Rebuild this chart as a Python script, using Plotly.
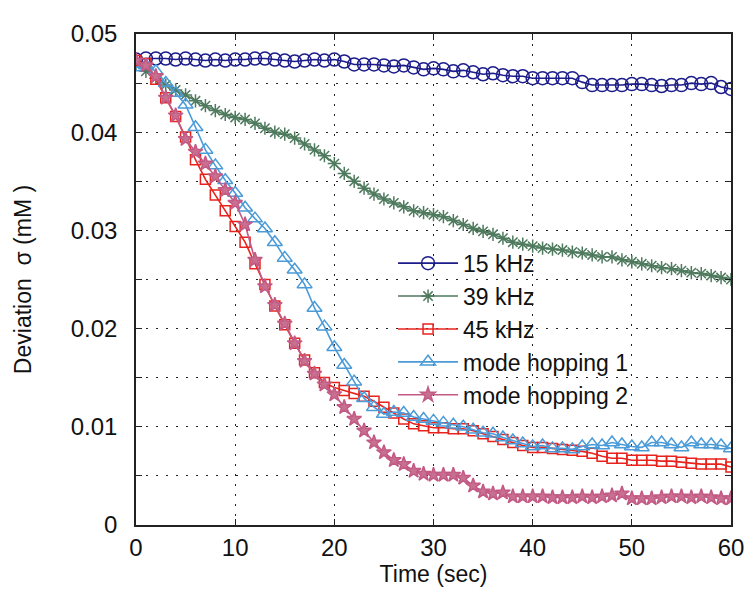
import plotly.graph_objects as go

time_sec = list(range(0, 61))

khz15 = [0.0474, 0.0475, 0.0475, 0.0475, 0.0474, 0.0475, 0.0474, 0.0473, 0.0474, 0.0473,
         0.0474, 0.0474, 0.0475, 0.0475, 0.0474, 0.0473, 0.0472, 0.0473, 0.0474, 0.0473,
         0.0474, 0.0472, 0.0469, 0.0469, 0.0469, 0.0468, 0.0467, 0.0468, 0.0466, 0.0464,
         0.0465, 0.0464, 0.0462, 0.0463, 0.0461, 0.0459, 0.0460, 0.0458, 0.0457, 0.0457,
         0.0455, 0.0455, 0.0455, 0.0455, 0.0455, 0.0451, 0.0448, 0.0448, 0.0448, 0.0448,
         0.0449, 0.0449, 0.0448, 0.0447, 0.0448, 0.0448, 0.0450, 0.0449, 0.0450, 0.0446,
         0.0444]

khz39 = [0.0470, 0.0462, 0.0455, 0.0448, 0.0443, 0.0438, 0.0432, 0.0427, 0.0422, 0.0418,
         0.0415, 0.0413, 0.0409, 0.0404, 0.0400, 0.0398, 0.0394, 0.0388, 0.0382, 0.0376,
         0.0368, 0.0358, 0.0350, 0.0343, 0.0337, 0.0332, 0.0328, 0.0324, 0.0320, 0.0318,
         0.0316, 0.0314, 0.0310, 0.0306, 0.0302, 0.0299, 0.0296, 0.0292, 0.0288, 0.0286,
         0.0284, 0.0282, 0.0281, 0.0280, 0.0278, 0.0277, 0.0275, 0.0273, 0.0273, 0.0270,
         0.0268, 0.0266, 0.0264, 0.0262, 0.0261, 0.0259, 0.0257, 0.0256, 0.0254, 0.0252,
         0.0250]

khz45 = [0.0473, 0.0470, 0.0454, 0.0435, 0.0416, 0.0395, 0.0372, 0.0352, 0.0336, 0.0320,
         0.0304, 0.0288, 0.0266, 0.0245, 0.0223, 0.0204, 0.0185, 0.0168, 0.0155, 0.0145,
         0.0140, 0.0137, 0.0134, 0.0131, 0.0126, 0.0120, 0.0114, 0.0108, 0.0103, 0.0101,
         0.0099, 0.0099, 0.0098, 0.0098, 0.0096, 0.0093, 0.0090, 0.0087, 0.0084, 0.0081,
         0.0079, 0.0079, 0.0078, 0.0077, 0.0076, 0.0075, 0.0073, 0.0070, 0.0068, 0.0068,
         0.0066, 0.0066, 0.0066, 0.0065, 0.0065, 0.0064, 0.0063, 0.0062, 0.0062, 0.0062,
         0.0059]

hop1 = [0.0466, 0.0468, 0.0462, 0.0450, 0.0440, 0.0428, 0.0405, 0.0382, 0.0366, 0.0351,
        0.0338, 0.0323, 0.0312, 0.0302, 0.0288, 0.0272, 0.0260, 0.0245, 0.0221, 0.0202,
        0.0181, 0.0163, 0.0146, 0.0129, 0.0120, 0.0113, 0.0115, 0.0114, 0.0110, 0.0108,
        0.0106, 0.0104, 0.0102, 0.0100, 0.0097, 0.0094, 0.0093, 0.0089, 0.0086, 0.0083,
        0.0080, 0.0081, 0.0078, 0.0078, 0.0077, 0.0080, 0.0082, 0.0081, 0.0084, 0.0082,
        0.0080, 0.0079, 0.0084, 0.0084, 0.0082, 0.0079, 0.0084, 0.0082, 0.0082, 0.0081,
        0.0078]

hop2 = [0.0473, 0.0468, 0.0457, 0.0435, 0.0417, 0.0393, 0.0380, 0.0368, 0.0355, 0.0341,
        0.0328, 0.0306, 0.0270, 0.0243, 0.0224, 0.0205, 0.0185, 0.0167, 0.0154, 0.0143,
        0.0133, 0.0120, 0.0108, 0.0096, 0.0084, 0.0074, 0.0066, 0.0062, 0.0055, 0.0052,
        0.0051, 0.0051, 0.0051, 0.0048, 0.0040, 0.0034, 0.0032, 0.0033, 0.0029, 0.0029,
        0.0029, 0.0029, 0.0028, 0.0028, 0.0028, 0.0029, 0.0028, 0.0029, 0.0030, 0.0032,
        0.0027, 0.0027, 0.0027, 0.0028, 0.0029, 0.0029, 0.0028, 0.0029, 0.0028, 0.0027,
        0.0027]

series_names = ["15 kHz", "39 kHz", "45 kHz", "mode hopping 1", "mode hopping 2"]
x_ticks = [0, 10, 20, 30, 40, 50, 60]
y_ticks = [0, 0.01, 0.02, 0.03, 0.04, 0.05]
y_tick_text = ["0", "0.01", "0.02", "0.03", "0.04", "0.05"]

styles = [
    dict(color="#1c1c8a", symbol="circle-open", size=13, fill=None),
    dict(color="#4e7a5e", symbol="asterisk-open", size=11, fill=None),
    dict(color="#e8231e", symbol="square-open", size=10, fill=None),
    dict(color="#4b9bd8", symbol="triangle-up-open", size=13, fill=None),
    dict(color="#c25a85", symbol="star", size=11, fill="#c8708f"),
]

fig = go.Figure()
for name, ys, st in zip(series_names, [khz15, khz39, khz45, hop1, hop2], styles):
    marker = dict(symbol=st["symbol"], size=st["size"], color=st["fill"] or st["color"],
                  line=dict(color=st["color"], width=1.5))
    fig.add_trace(go.Scatter(x=time_sec, y=ys, name=name, mode="lines+markers",
                             line=dict(color=st["color"], width=1.6), marker=marker))

FONT = "Liberation Sans, Arial, sans-serif"
tick_font = dict(family=FONT, size=24, color="#111")
grid = dict(showgrid=True, gridcolor="#222", griddash="1.5px,8.5px", gridwidth=1.2)

fig.update_layout(
    width=748, height=592,
    margin=dict(l=128, r=20, t=21, b=75),
    paper_bgcolor="white", plot_bgcolor="white",
    font=dict(family=FONT, color="#111"),
    showlegend=True,
    legend=dict(x=0.432, y=0.577, xanchor="left", yanchor="top",
                bgcolor="rgba(0,0,0,0)", borderwidth=0,
                font=dict(size=23, family=FONT, color="#111"),
                itemwidth=60, tracegroupgap=0),
    xaxis=dict(range=[0, 60], tickvals=x_ticks, ticktext=[str(v) for v in x_ticks],
               showline=True, linecolor="#222", linewidth=1.5, mirror="ticks",
               ticks="inside", ticklen=6, tickcolor="#222",
               zeroline=False, tickfont=tick_font,
               title=dict(text="Time (sec)", font=dict(size=23), standoff=4),
               **grid),
    yaxis=dict(range=[0, 0.05], tickvals=y_ticks, ticktext=y_tick_text,
               showline=True, linecolor="#222", linewidth=1.5, mirror="ticks",
               ticks="inside", ticklen=6, tickcolor="#222",
               ticklabelstandoff=12,
               minor=dict(dtick=0.005, ticks="inside", ticklen=6, tickcolor="#222",
                          showgrid=True, gridcolor="#222", griddash="1.5px,8.5px"),
               zeroline=False, tickfont=tick_font,
               title=dict(text="Deviation  σ (mM )", font=dict(size=23), standoff=33),
               **grid),
)

fig.write_html("out.html")
